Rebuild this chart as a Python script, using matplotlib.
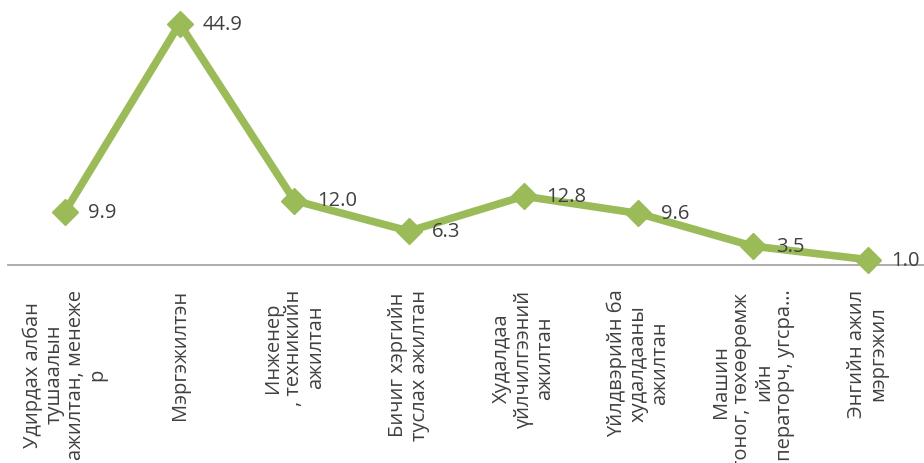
import matplotlib
matplotlib.use("Agg")
import matplotlib.pyplot as plt

plt.rcParams["font.family"] = ["Open Sans", "DejaVu Sans"]

# ажил мэргэжлийн ангилал, хувь
categories = [
    "Удирдах албан\nтушаалын\nажилтан, менеже\nр",
    "Мэргэжилтэн",
    "Инженер\n, техникийн\nажилтан",
    "Бичиг хэргийн\nтуслах ажилтан",
    "Худалдаа\nүйлчилгээний\nажилтан",
    "Үйлдвэрийн ба\nхудалдааны\nажилтан",
    "Машин\nтоног, төхөөрөмж\nийн\nоператорч, угсра…",
    "Энгийн ажил\nмэргэжил",
]
values = [9.9, 44.9, 12.0, 6.3, 12.8, 9.6, 3.5, 1.0]

green = "#9BBB59"
W, H = 924, 464

fig = plt.figure(figsize=(W / 100, H / 100), dpi=100)
# тэнхлэгийн байрлал (пикселээр)
ax = fig.add_axes([7.6 / W, 198 / H, 917.6 / W, 258 / H])
x = list(range(len(values)))
ax.plot(x, values, color=green, lw=5.5, marker="D", ms=13,
        solid_joinstyle="miter", clip_on=False, zorder=3)
for xi, v in zip(x, values):
    ax.annotate("%.1f" % v, (xi, v), xytext=(16.5, 0), textcoords="offset points",
                ha="left", va="center", fontsize=14.5, color="#404040", zorder=4)

ax.set_xlim(-0.5, 7.5)
ax.set_ylim(0, 48)
ax.set_xticks(x)
ax.set_xticklabels(categories, rotation=90, ha="center", va="top",
                   multialignment="center", fontsize=14.5,
                   color="#404040", linespacing=1.1)
ax.tick_params(axis="x", length=0, pad=17)
ax.set_yticks([])
for s in ["top", "left", "right"]:
    ax.spines[s].set_visible(False)
ax.spines["bottom"].set_color("#A6A6A6")
ax.spines["bottom"].set_linewidth(1.3)

fig.savefig("out.png", dpi=100)
